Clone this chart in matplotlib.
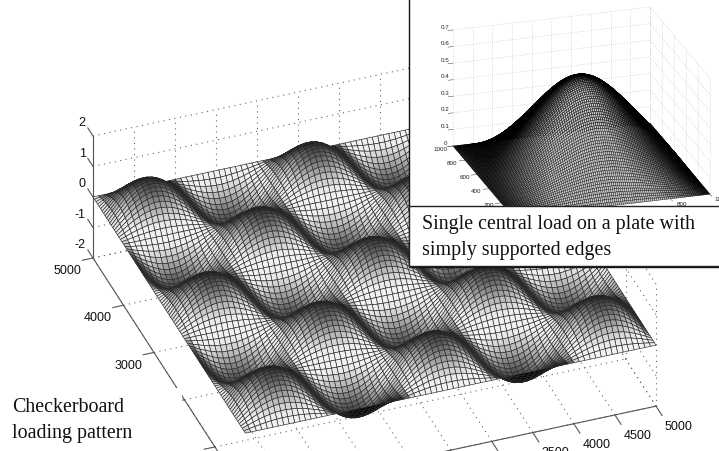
import numpy as np
import matplotlib
matplotlib.use("Agg")
import matplotlib.pyplot as plt
from matplotlib.patches import Rectangle
from mpl_toolkits.mplot3d import proj3d

W, H = 719, 451
plt.rcParams['font.family'] = ['Liberation Sans', 'DejaVu Sans']

# --- Main plot data -------------------------------------------------------
# Crest height of each checkerboard cell (row = y cell).
# The wave between crests is a modelled sine profile, not read cell by cell.
main_crests = np.array([
    [ 1.0, -1.0,  1.0, -1.0,  1.0],
    [-1.0,  1.0, -1.0,  1.0, -1.0],
    [ 1.0, -1.0,  1.0, -1.0,  1.0],
    [-1.0,  1.0, -1.0,  1.0, -1.0],
    [ 1.0, -1.0,  1.0, -1.0,  1.0],
])
main_cells_x = 75
main_cells_y = 100
main_x_ticks = [0, 500, 1000, 1500, 2000, 2500, 3000, 3500, 4000, 4500, 5000]
main_x_labels = ['', '', '', '', '', '', '', '3500', '4000', '4500', '5000']
main_y_ticks = [0, 1000, 2000, 3000, 4000, 5000]
main_y_labels = ['', '', '', '3000', '4000', '5000']
main_z_ticks = [-2, -1, 0, 1, 2]
main_z_labels = ['-2', '-1', '0', '1', '2']

# --- Inset data -----------------------------------------------------------
# Peak height; the shape is a modelled plate-mode sum.
inset_peak = 0.57
inset_modes = [1, 3, 5]
inset_mode_weights = [1.0, -0.05, 0.01]
inset_cells = 100
inset_x_ticks = [0, 100, 200, 300, 400, 500, 600, 700, 800, 900, 1000]
inset_y_ticks = [0, 200, 400, 600, 800, 1000]
inset_y_labels = ['', '200', '400', '600', '800', '1000']
inset_z_ticks = [0, 0.1, 0.2, 0.3, 0.4, 0.5, 0.6, 0.7]
inset_x_label_ticks = [800, 1000]
inset_x_labels = ['800', '1000']

caption_main = "Checkerboard\nloading pattern"
caption_inset = "Single central load on a plate with\nsimply supported edges"


def face_gray(X, Y, Z, box, zspan, elev, azim, lo, hi, top, xweight=1.0, zdark=0.0):
    """Headlight shading from the facet normals, darkened away from z = 0."""
    sx = box[0] / (X.max() - X.min())
    sy = box[1] / (Y.max() - Y.min())
    sz = box[2] / zspan
    dzx = (Z[:-1, 1:] - Z[:-1, :-1]) * sz / ((X[:-1, 1:] - X[:-1, :-1]) * sx)
    dzy = (Z[1:, :-1] - Z[:-1, :-1]) * sz / ((Y[1:, :-1] - Y[:-1, :-1]) * sy)
    n = np.dstack([-dzx * xweight, -dzy, np.ones_like(dzx)])
    n /= np.linalg.norm(n, axis=2, keepdims=True)
    e, a = np.radians(elev), np.radians(azim)
    v = np.array([np.cos(e) * np.cos(a), np.cos(e) * np.sin(a), np.sin(e)])
    nv = n @ v
    zc = 0.25 * (Z[:-1, :-1] + Z[1:, :-1] + Z[:-1, 1:] + Z[1:, 1:])
    g = np.clip((nv - lo) / (hi - lo), 0, 1) * (1 - zdark * np.abs(zc) ** 1.5)
    g = np.clip(g, 0, top)
    rgba = np.dstack([g, g, g, np.ones_like(g)])
    return rgba


def place(ax, pts_data, pts_px):
    """Position a 3D axes so that two data points land on two pixel targets."""
    fig = ax.figure
    ax.set_position([0, 0, 1, 1])
    fig.canvas.draw()
    p = [proj3d.proj_transform(*q, ax.get_proj())[:2] for q in pts_data]
    vl = ax.viewLim
    s = (pts_px[1][0] - pts_px[0][0]) / (p[1][0] - p[0][0])
    side = s * vl.width
    x0 = pts_px[0][0] - s * (p[0][0] - vl.x0)
    y0 = (H - pts_px[0][1]) - s * (p[0][1] - vl.y0)
    ax.set_position([x0 / W, y0 / H, side / W, side / H])


fig = plt.figure(figsize=(W / 100, H / 100), dpi=100, facecolor='white')

# ---------------------------- main surface ---------------------------------
ELEV, AZIM = 35.2, -110.4
BOX = (438, 437, 149.3)
ax = fig.add_axes([0, 0, 1, 1], projection='3d', proj_type='ortho', zorder=1)
ax.view_init(elev=ELEV, azim=AZIM)
ax.set_box_aspect(BOX)
ax.set_xlim(0, 5000); ax.set_ylim(0, 5000); ax.set_zlim(-2, 2)
ax.set_axis_off()
ax.patch.set_alpha(0)

gx = np.linspace(0, 5000, main_cells_x + 1)
gy = np.linspace(0, 5000, main_cells_y + 1)
X, Y = np.meshgrid(gx, gy)
ci = np.clip((Y / 1000).astype(int), 0, 4)
cj = np.clip((X / 1000).astype(int), 0, 4)
Z = main_crests[ci, cj] * np.abs(np.sin(np.pi * X / 1000)) * np.abs(np.sin(np.pi * Y / 1000))

grid_kw = dict(color='#666666', lw=0.8, ls=(0, (1, 4)))
for t in main_x_ticks:
    ax.plot([t, t], [5000, 5000], [-2, 2], **grid_kw)
    ax.plot([t, t], [0, 5000], [-2, -2], **grid_kw)
for t in main_y_ticks:
    ax.plot([5000, 5000], [t, t], [-2, 2], **grid_kw)
    ax.plot([0, 5000], [t, t], [-2, -2], **grid_kw)
for t in main_z_ticks:
    ax.plot([0, 5000], [5000, 5000], [t, t], **grid_kw)
    ax.plot([5000, 5000], [0, 5000], [t, t], **grid_kw)

ax.plot_surface(X, Y, Z, rstride=1, cstride=1, shade=False,
                facecolors=face_gray(X, Y, Z, BOX, 4, ELEV, AZIM, 0.1, 0.68, 0.95,
                                     xweight=0.7, zdark=0.75),
                edgecolor='#2a2a2a', linewidth=0.45, antialiased=True)

ax_kw = dict(color='#555555', lw=0.8)
ax.plot([0, 0], [5000, 5000], [-2, 2], **ax_kw)
ax.plot([0, 0], [0, 5000], [-2, -2], **ax_kw)
ax.plot([0, 5000], [0, 0], [-2, -2], **ax_kw)
for t, lab in zip(main_x_ticks, main_x_labels):
    ax.plot([t, t], [0, -200], [-2, -2], **ax_kw)
    ax.text(t + 100, -480, -2, lab, fontsize=9, ha='center', va='center', color='#111111')
for t, lab in zip(main_y_ticks, main_y_labels):
    ax.plot([0, -130], [t, t], [-2, -2], **ax_kw)
    ax.text(-330, t - 50, -2.16, lab, fontsize=9, ha='center', va='center', color='#111111')
for t, lab in zip(main_z_ticks, main_z_labels):
    ax.plot([0, 0], [5000, 5170], [t, t], **ax_kw)
    ax.text(0, 5240, t + 0.05, lab, fontsize=9, ha='right', va='center', color='#111111')
place(ax, [(0, 5000, -2), (5000, 0, -2)], [(93, 258), (656, 407)])

# ------------------------- overlay (boxes and captions) --------------------
ov = fig.add_axes([0, 0, 1, 1], zorder=2)
ov.set_xlim(0, W); ov.set_ylim(H, 0); ov.axis('off')
ov.add_patch(Rectangle((0, 388), 182, 63, fc='white', ec='none'))
ov.add_patch(Rectangle((409, -2), 312, 268.5, fc='white', ec='#111111', lw=1.0))

# ---------------------------- inset surface --------------------------------
IELEV, IAZIM = 21.8, -107.4
IBOX = (206.5, 200.7, 125)
ins = fig.add_axes([0, 0, 1, 1], projection='3d', proj_type='ortho', zorder=3)
ins.view_init(elev=IELEV, azim=IAZIM)
ins.set_box_aspect(IBOX)
ins.set_xlim(0, 1000); ins.set_ylim(0, 1000); ins.set_zlim(0, 0.7)
ins.set_axis_off()
ins.patch.set_alpha(0)

igx = np.linspace(0, 1000, inset_cells + 1)
iX, iY = np.meshgrid(igx, igx)
iZ = np.zeros_like(iX)
for m, wm in zip(inset_modes, inset_mode_weights):
    for n, wn in zip(inset_modes, inset_mode_weights):
        iZ += wm * wn * np.sin(m * np.pi * iX / 1000) * np.sin(n * np.pi * iY / 1000)
iZ = inset_peak * iZ / iZ.max()

igrid = dict(color='#b8b8b8', lw=0.45, ls=(0, (1, 2)))
for t in inset_x_ticks:
    ins.plot([t, t], [1000, 1000], [0, 0.7], **igrid)
    ins.plot([t, t], [0, 1000], [0, 0], **igrid)
for t in inset_y_ticks:
    ins.plot([1000, 1000], [t, t], [0, 0.7], **igrid)
    ins.plot([0, 1000], [t, t], [0, 0], **igrid)
for t in inset_z_ticks:
    ins.plot([0, 1000], [1000, 1000], [t, t], **igrid)
    ins.plot([1000, 1000], [0, 1000], [t, t], **igrid)

ins.plot_surface(iX, iY, iZ, rstride=1, cstride=1, shade=False,
                 facecolors=face_gray(iX, iY, iZ, IBOX, 0.7, IELEV, IAZIM, 0.38, 1.0, 0.8),
                 edgecolor='#000000', linewidth=0.25, antialiased=True)

itk = dict(color='#555555', lw=0.4)
for t, lab in zip(inset_y_ticks, inset_y_labels):
    ins.plot([0, -30], [t, t], [0, 0], **itk)
    ins.text(-70, t - 20, 0, lab, fontsize=4.5, ha='center', va='center', color='#222222')
for t in inset_z_ticks:
    ins.plot([0, -25], [1000, 1000], [t, t], **itk)
    ins.text(-45, 985, t + 0.03, f'{t:g}', fontsize=4.5, ha='center', va='center', color='#222222')
for t, lab in zip(inset_x_label_ticks, inset_x_labels):
    ins.plot([t, t], [0, -30], [0, 0], **itk)
    ins.text(t + 30, -90, 0, lab, fontsize=4.5, ha='center', va='center', color='#222222')
place(ins, [(0, 1000, 0), (1000, 0, 0)], [(453, 146), (710, 194)])

# ---------------------------- captions -------------------------------------
top = fig.add_axes([0, 0, 1, 1], zorder=4)
top.set_xlim(0, W); top.set_ylim(H, 0); top.axis('off')
top.add_patch(Rectangle((409, 205.5), 312, 60.5, fc='white', ec='#222222', lw=1.0))
top.text(422, 238, caption_inset, fontsize=14.4, family=['Liberation Serif'], va='center',
         linespacing=1.5, color='#111111')
top.text(12, 420.5, caption_main, fontsize=14.4, family=['Liberation Serif'], va='center',
         linespacing=1.5, color='#111111')

fig.savefig('out.png', dpi=100, facecolor='white')
